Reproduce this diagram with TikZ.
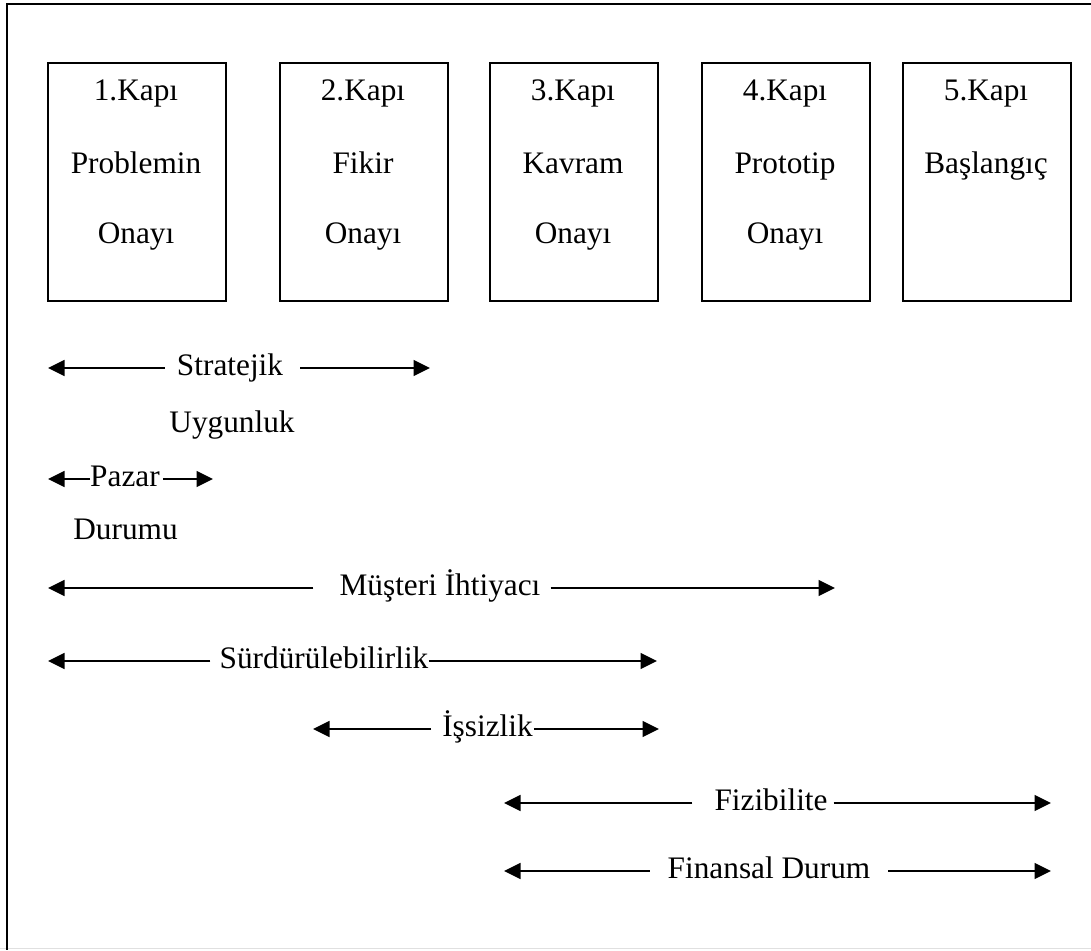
\documentclass[tikz,border=0pt]{standalone}
\usepackage{fontspec}
\setmainfont{Liberation Serif}
\usetikzlibrary{arrows.meta}
\begin{document}
\fontsize{31.3}{37}\selectfont
\begin{tikzpicture}[x=1pt,y=-1pt,
  gate/.style={draw, line width=2pt, minimum width=168pt, minimum height=238pt,
               anchor=north west, inner sep=0pt},
  lbl/.style={inner sep=0pt, anchor=mid},
  span/.style={line width=2.8pt, -{Triangle[length=16.5pt,width=15.5pt]}},
]
\useasboundingbox (0,0) rectangle (1091,950);

% frame
\draw[black!12, line width=1.5pt] (0,948.5) -- (1091,948.5);
\draw[line width=2pt] (1091,4) -- (7,4) -- (7,950);

% gates
\node[gate, minimum width=178pt] (g1) at (47,62) {};
\node[gate] (g2) at (279,62) {};
\node[gate] (g3) at (489,62) {};
\node[gate] (g4) at (701,62) {};
\node[gate] (g5) at (902,62) {};

\node[lbl] (g1a) at (136,93) {1.Kapı};
\node[lbl] (g1b) at (136,166) {Problemin};
\node[lbl] (g1c) at (136,236) {Onayı};

\node[lbl] (g2a) at (363,93) {2.Kapı};
\node[lbl] (g2b) at (363,166) {Fikir};
\node[lbl] (g2c) at (363,236) {Onayı};

\node[lbl] (g3a) at (573,93) {3.Kapı};
\node[lbl] (g3b) at (573,166) {Kavram};
\node[lbl] (g3c) at (573,236) {Onayı};

\node[lbl] (g4a) at (785,93) {4.Kapı};
\node[lbl] (g4b) at (785,166) {Prototip};
\node[lbl] (g4c) at (785,236) {Onayı};

\node[lbl] (g5a) at (986,93) {5.Kapı};
\node[lbl] (g5b) at (986,166) {Başlangıç};

% criteria and their spans
\node[lbl] (strat) at (230,368) {Stratejik};
\node[lbl] (uyg) at (232,425) {Uygunluk};
\coordinate (stratL) at (48,368);
\coordinate (stratR) at (430,368);
\draw[span] ([xshift=-12pt]strat.mid west) -- (stratL);
\draw[span] ([xshift=17pt]strat.mid east) -- (stratR);

\node[lbl] (pazar) at (125,479) {Pazar};
\node[lbl] (durumu) at (125.5,532) {Durumu};
\coordinate (pazarL) at (48,479);
\coordinate (pazarR) at (213,479);
\draw[span] (pazar.mid west) -- (pazarL);
\draw[span] ([xshift=3pt]pazar.mid east) -- (pazarR);

\node[lbl] (must) at (440,588) {Müşteri İhtiyacı};
\coordinate (mustL) at (48,588);
\coordinate (mustR) at (835,588);
\draw[span] ([xshift=-26pt]must.mid west) -- (mustL);
\draw[span] ([xshift=10pt]must.mid east) -- (mustR);

\node[lbl] (surd) at (324,661) {Sürdürülebilirlik};
\coordinate (surdL) at (48,661);
\coordinate (surdR) at (657,661);
\draw[span] ([xshift=-9pt]surd.mid west) -- (surdL);
\draw[span] (surd.mid east) -- (surdR);

\node[lbl] (issiz) at (487.5,729) {İşsizlik};
\coordinate (issizL) at (313,729);
\coordinate (issizR) at (659,729);
\draw[span] ([xshift=-11pt]issiz.mid west) -- (issizL);
\draw[span] ([xshift=1pt]issiz.mid east) -- (issizR);

\node[lbl] (fizi) at (771,803) {Fizibilite};
\coordinate (fiziL) at (504,803);
\coordinate (fiziR) at (1051,803);
\draw[span] ([xshift=-22pt]fizi.mid west) -- (fiziL);
\draw[span] ([xshift=6pt]fizi.mid east) -- (fiziR);

\node[lbl] (fin) at (769,871) {Finansal Durum};
\coordinate (finL) at (504,871);
\coordinate (finR) at (1051,871);
\draw[span] ([xshift=-18pt]fin.mid west) -- (finL);
\draw[span] ([xshift=18pt]fin.mid east) -- (finR);
\end{tikzpicture}
\end{document}
